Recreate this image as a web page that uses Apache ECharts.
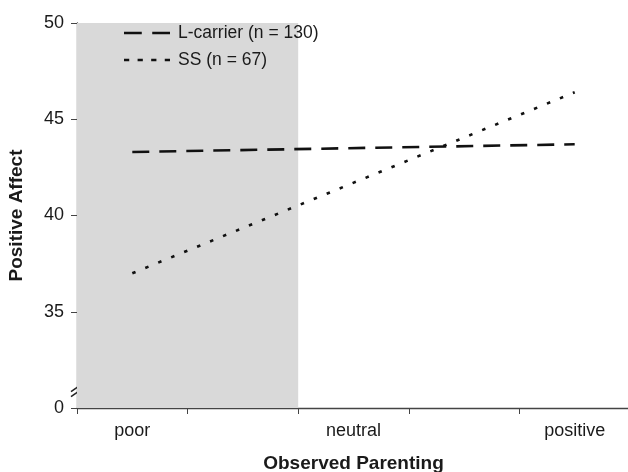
<!DOCTYPE html>
<html>
<head>
<meta charset="utf-8">
<script src="https://cdn.jsdelivr.net/npm/echarts@6/dist/echarts.min.js"></script>
<style>
html,body{margin:0;padding:0;background:#fff;}
#chart{width:628px;height:472px;}
</style>
</head>
<body>
<div id="chart"></div>
<script>
const categories = ['poor', '', 'neutral', '', 'positive'];
const lCarrier = [43.3, null, null, null, 43.7];
const ss = [37.0, null, null, null, 46.4];
const yTicks = [30, 35, 40, 45, 50];
const yTickLabels = ['0', '35', '40', '45', '50'];
const shadedBands = [0, 2];
const seriesNames = ['L-carrier (n = 130)', 'SS (n = 67)'];

const chart = echarts.init(document.getElementById('chart'));
const font = 'Liberation Sans, Arial, sans-serif';
const longDashIcon = 'path://M0 0h17v2.6h-17z M27 0h17v2.6h-17z';
const shortDashIcon = 'path://M0 0h5v2.6h-5z M13 0h5v2.6h-5z M26 0h5v2.6h-5z M39 0h5v2.6h-5z';
const option = {
  animation: false,
  backgroundColor: '#fff',
  textStyle: { fontFamily: font, color: '#1a1a1a' },
  grid: { left: 77, right: -2, top: 23, bottom: 64, outerBoundsMode: 'none', containLabel: false },
  legend: {
    left: 119, top: 19, orient: 'vertical',
    itemWidth: 46, itemHeight: 14, itemGap: 9,
    textStyle: { fontFamily: font, fontSize: 17.5, color: '#1a1a1a', padding: [0, 0, 0, 3] },
    data: [
      { name: seriesNames[0], icon: longDashIcon, itemStyle: { color: '#111' } },
      { name: seriesNames[1], icon: shortDashIcon, itemStyle: { color: '#111' } }
    ]
  },
  xAxis: [{
    type: 'category', data: categories, boundaryGap: true,
    name: 'Observed Parenting', nameLocation: 'middle', nameGap: 46,
    nameTextStyle: { fontFamily: font, fontSize: 19, fontWeight: 'bold', color: '#1a1a1a' },
    axisLine: { lineStyle: { color: '#444', width: 1.3 } },
    axisTick: { show: true, interval: 0, length: 6, lineStyle: { color: '#444' } },
    axisLabel: { interval: 0, margin: 14, fontFamily: font, fontSize: 18, color: '#1a1a1a' },
    splitLine: { show: false }
  }, {
    type: 'value', min: 0, max: categories.length, show: false
  }],
  yAxis: {
    type: 'value', min: yTicks[0], max: yTicks[yTicks.length - 1], interval: 5,
    name: 'Positive Affect', nameLocation: 'middle', nameGap: 51,
    nameTextStyle: { fontFamily: font, fontSize: 19, fontWeight: 'bold', color: '#1a1a1a' },
    axisLine: { show: true, lineStyle: { color: '#444', width: 1.3 } },
    axisTick: { show: true, length: 6, lineStyle: { color: '#444' } },
    axisLabel: {
      margin: 13, fontFamily: font, fontSize: 18, color: '#1a1a1a',
      formatter: v => yTickLabels[yTicks.indexOf(v)]
    },
    splitLine: { show: false }
  },
  series: [
    {
      type: 'line', xAxisIndex: 1, data: [], silent: true,
      markArea: {
        silent: true,
        itemStyle: { color: '#d9d9d9' },
        data: [[{ xAxis: shadedBands[0], yAxis: yTicks[0] }, { xAxis: shadedBands[1], yAxis: yTicks[yTicks.length - 1] }]]
      }
    },
    {
      name: seriesNames[0], type: 'line', data: lCarrier, connectNulls: true,
      symbol: 'none', z: 5, itemStyle: { color: '#111' },
      lineStyle: { color: '#111', width: 2.6, type: [17, 10], cap: 'butt' }
    },
    {
      name: seriesNames[1], type: 'line', data: ss, connectNulls: true,
      symbol: 'none', z: 5, itemStyle: { color: '#111' },
      lineStyle: { color: '#111', width: 2.6, type: [3.5, 10.5], cap: 'butt' }
    }
  ]
};
chart.setOption(option);

// axis break marks
const ax = chart.convertToPixel({ xAxisIndex: 1 }, 0);
const yb = chart.convertToPixel({ yAxisIndex: 0 }, 30.9);
chart.setOption({
  graphic: [
    { type: 'line', shape: { x1: ax - 6, y1: yb + 1, x2: ax + 7, y2: yb - 8 }, style: { stroke: '#222', lineWidth: 1.5 } },
    { type: 'line', shape: { x1: ax - 6, y1: yb + 6, x2: ax + 7, y2: yb - 3 }, style: { stroke: '#222', lineWidth: 1.5 } }
  ]
});
</script>
</body>
</html>
